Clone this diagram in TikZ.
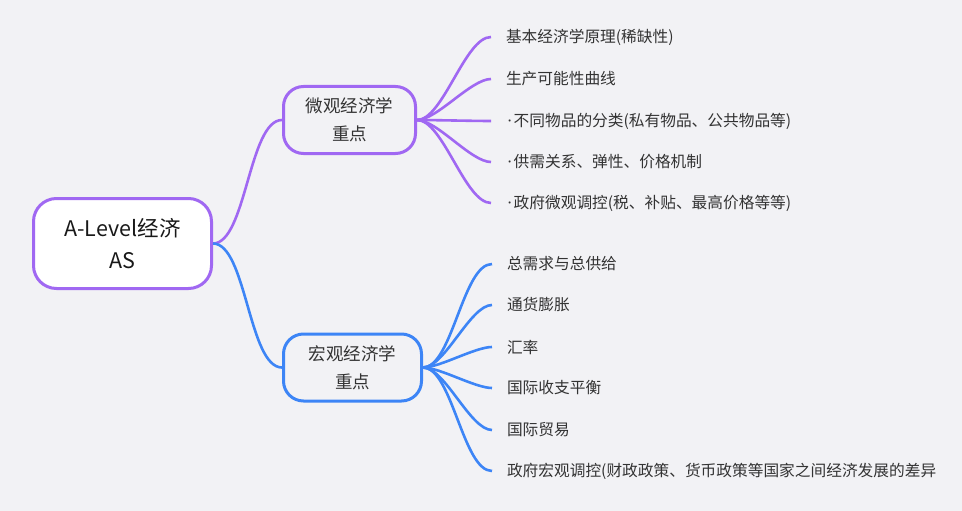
\documentclass[tikz,border=0pt]{standalone}
\usepackage{fontspec}
\setmainfont{Noto Sans CJK SC}
\newfontfamily\dotfont{Noto Sans}
\newcommand{\leafdot}{\hspace{1.5pt}{\dotfont ·}\hspace{2pt}}
\definecolor{mapbg}{HTML}{F2F2F5}
\definecolor{micropurple}{HTML}{A068F2}
\definecolor{macroblue}{HTML}{3D85F6}
\definecolor{inktext}{HTML}{333333}

\begin{document}
\begin{tikzpicture}[x=1pt,y=-1pt,
  root node/.style={draw=micropurple,line width=3pt,fill=white,rounded corners=23pt,inner sep=0pt,minimum width=178pt,minimum height=90pt,align=center,text=black!90,font=\fontsize{21.5}{32}\selectfont},
  branch node/.style={line width=3pt,fill=mapbg,rounded corners=20pt,inner sep=0pt,minimum height=67pt,align=center,text=inktext,font=\fontsize{17.5}{28}\selectfont},
  leaf node/.style={anchor=west,inner xsep=0pt,inner ysep=2pt,outer xsep=15pt,text=inktext,font=\fontsize{15.7}{18}\selectfont},
  link/.style={line width=2.6pt,out=0,in=180,looseness=0.6},
  micro link/.style={link,micropurple},
  macro link/.style={link,macroblue}]

  \fill[mapbg] (0,0) rectangle (962,511);

  \node[root node] (root) at (122.5,243.5) {A-Level经济\\AS};
  \node[branch node,draw=micropurple,minimum width=132pt] (micro) at (349.5,120) {微观经济学\\重点};
  \node[branch node,draw=macroblue,minimum width=138pt] (macro) at (352.5,367.5) {宏观经济学\\重点};

  % micro leaves
  \node[leaf node] (m1) at (491,37) {基本经济学原理(稀缺性)};
  \node[leaf node] (m2) at (491,79) {生产可能性曲线};
  \node[leaf node] (m3) at (491,121) {\leafdot 不同物品的分类(私有物品、公共物品等)};
  \node[leaf node] (m4) at (491,162) {\leafdot 供需关系、弹性、价格机制};
  \node[leaf node] (m5) at (491,203) {\leafdot 政府微观调控(税、补贴、最高价格等等)};

  % macro leaves
  \node[leaf node] (a1) at (492,264) {总需求与总供给};
  \node[leaf node] (a2) at (492,305) {通货膨胀};
  \node[leaf node] (a3) at (492,347) {汇率};
  \node[leaf node] (a4) at (492,388) {国际收支平衡};
  \node[leaf node] (a5) at (492,430) {国际贸易};
  \node[leaf node] (a6) at (492,471) {政府宏观调控(财政政策、货币政策等国家之间经济发展的差异};

  \path[micro link] (root.east) edge (micro.west);
  \path[macro link] (root.east) edge (macro.west);

  \path[micro link]
  (micro.east) edge (m1.west)
               edge (m2.west)
               edge (m3.west)
               edge (m4.west)
               edge (m5.west);

  \path[macro link]
  (macro.east) edge (a1.west)
               edge (a2.west)
               edge (a3.west)
               edge (a4.west)
               edge (a5.west)
               edge (a6.west);
\end{tikzpicture}
\end{document}
